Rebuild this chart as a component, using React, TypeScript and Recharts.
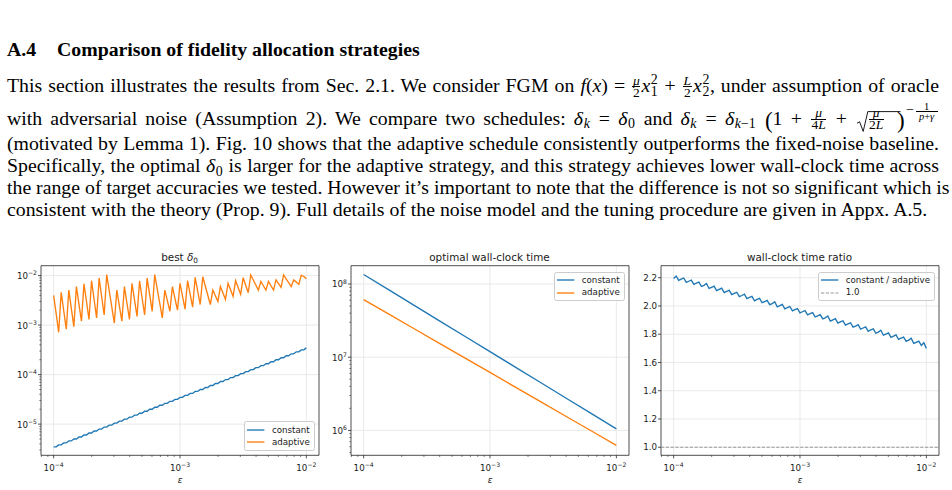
import React from 'react';
import {
  LineChart,
  Line,
  XAxis,
  YAxis,
  CartesianGrid,
  ReferenceLine,
  ReferenceArea,
  Legend,
} from 'recharts';

// ---------------------------------------------------------------------------
// Data
// ---------------------------------------------------------------------------

// target accuracies ε used by the δ0 and ratio panels
const epsilon = [
  1.000e-4, 1.047e-4, 1.096e-4, 1.148e-4, 1.202e-4, 1.259e-4, 1.318e-4, 1.380e-4, 1.445e-4, 1.514e-4,
  1.585e-4, 1.660e-4, 1.738e-4, 1.820e-4, 1.905e-4, 1.995e-4, 2.089e-4, 2.188e-4, 2.291e-4, 2.399e-4,
  2.512e-4, 2.630e-4, 2.754e-4, 2.884e-4, 3.020e-4, 3.162e-4, 3.311e-4, 3.467e-4, 3.631e-4, 3.802e-4,
  3.981e-4, 4.169e-4, 4.365e-4, 4.571e-4, 4.786e-4, 5.012e-4, 5.248e-4, 5.495e-4, 5.754e-4, 6.026e-4,
  6.310e-4, 6.607e-4, 6.918e-4, 7.244e-4, 7.586e-4, 7.943e-4, 8.318e-4, 8.710e-4, 9.120e-4, 9.550e-4,
  1.000e-3, 1.047e-3, 1.096e-3, 1.148e-3, 1.202e-3, 1.259e-3, 1.318e-3, 1.380e-3, 1.445e-3, 1.514e-3,
  1.585e-3, 1.660e-3, 1.738e-3, 1.820e-3, 1.905e-3, 1.995e-3, 2.089e-3, 2.188e-3, 2.291e-3, 2.399e-3,
  2.512e-3, 2.630e-3, 2.754e-3, 2.884e-3, 3.020e-3, 3.162e-3, 3.311e-3, 3.467e-3, 3.631e-3, 3.802e-3,
  3.981e-3, 4.169e-3, 4.365e-3, 4.571e-3, 4.786e-3, 5.012e-3, 5.248e-3, 5.495e-3, 5.754e-3, 6.026e-3,
  6.310e-3, 6.607e-3, 6.918e-3, 7.244e-3, 7.586e-3, 7.943e-3, 8.318e-3, 8.710e-3, 9.120e-3, 9.550e-3,
  1.000e-2,
];

// best initial noise level δ0, constant schedule
const bestDeltaConstant = [
  3.467e-6, 3.467e-6, 3.802e-6, 3.802e-6, 4.169e-6, 4.169e-6, 4.571e-6, 4.571e-6, 5.012e-6, 5.012e-6,
  5.495e-6, 5.495e-6, 6.026e-6, 6.026e-6, 6.607e-6, 6.607e-6, 7.244e-6, 7.244e-6, 7.943e-6, 7.943e-6,
  8.710e-6, 8.710e-6, 9.550e-6, 9.550e-6, 1.047e-5, 1.047e-5, 1.148e-5, 1.148e-5, 1.259e-5, 1.259e-5,
  1.380e-5, 1.380e-5, 1.514e-5, 1.514e-5, 1.660e-5, 1.660e-5, 1.820e-5, 1.820e-5, 1.995e-5, 1.995e-5,
  2.188e-5, 2.188e-5, 2.399e-5, 2.399e-5, 2.630e-5, 2.630e-5, 2.884e-5, 2.884e-5, 3.162e-5, 3.162e-5,
  3.467e-5, 3.467e-5, 3.802e-5, 3.802e-5, 4.169e-5, 4.169e-5, 4.571e-5, 4.571e-5, 5.012e-5, 5.012e-5,
  5.495e-5, 5.495e-5, 6.026e-5, 6.026e-5, 6.607e-5, 6.607e-5, 7.244e-5, 7.244e-5, 7.943e-5, 7.943e-5,
  8.710e-5, 8.710e-5, 9.550e-5, 9.550e-5, 1.047e-4, 1.047e-4, 1.148e-4, 1.148e-4, 1.259e-4, 1.259e-4,
  1.380e-4, 1.380e-4, 1.514e-4, 1.514e-4, 1.660e-4, 1.660e-4, 1.820e-4, 1.820e-4, 1.995e-4, 1.995e-4,
  2.188e-4, 2.188e-4, 2.399e-4, 2.399e-4, 2.630e-4, 2.630e-4, 2.884e-4, 2.884e-4, 3.162e-4, 3.162e-4,
  3.467e-4,
];

// best initial noise level δ0, adaptive schedule
const bestDeltaAdaptive = [
  4.0e-3, 1.70e-3, 7.2e-4, 4.6e-3, 1.95e-3, 8.3e-4, 5.1e-3, 2.18e-3, 9.3e-4, 6.0e-3,
  2.68e-3, 1.2e-3, 6.8e-3, 2.97e-3, 1.3e-3, 7.9e-3, 3.33e-3, 1.4e-3, 8.9e-3, 3.77e-3,
  1.6e-3, 1.05e-2, 4.95e-3, 2.33e-3, 1.1e-3, 5.1e-3, 2.47e-3, 1.2e-3, 6.0e-3, 2.79e-3,
  1.3e-3, 7.0e-3, 3.24e-3, 1.5e-3, 7.8e-3, 3.53e-3, 1.6e-3, 8.9e-3, 4.11e-3, 1.9e-3,
  1.05e-2, 5.36e-3, 2.74e-3, 1.4e-3, 5.1e-3, 3.11e-3, 1.9e-3, 6.0e-3, 3.46e-3, 2.0e-3,
  7.0e-3, 3.83e-3, 2.1e-3, 7.9e-3, 4.26e-3, 2.3e-3, 9.2e-3, 4.89e-3, 2.6e-3, 9.5e-3,
  6.17e-3, 4.01e-3, 2.6e-3, 5.1e-3, 3.91e-3, 3.0e-3, 6.0e-3, 4.45e-3, 3.3e-3, 7.0e-3,
  5.16e-3, 3.8e-3, 7.9e-3, 5.76e-3, 4.2e-3, 9.1e-3, 6.40e-3, 4.5e-3, 1.03e-2, 8.15e-3,
  6.45e-3, 5.1e-3, 7.6e-3, 6.23e-3, 5.1e-3, 7.6e-3, 6.23e-3, 5.1e-3, 8.2e-3, 6.90e-3,
  5.8e-3, 1.03e-2, 8.61e-3, 7.18e-3, 6.0e-3, 8.2e-3, 7.41e-3, 6.7e-3, 1.02e-2, 9.6e-3,
  8.6e-3,
];

// wall-clock time of the constant schedule divided by that of the adaptive one
const timeRatio = [
  2.195, 2.212, 2.181, 2.190, 2.198, 2.167, 2.175, 2.183, 2.153, 2.161,
  2.169, 2.138, 2.146, 2.159, 2.124, 2.132, 2.140, 2.109, 2.118, 2.126,
  2.095, 2.103, 2.111, 2.081, 2.089, 2.097, 2.066, 2.074, 2.083, 2.052,
  2.060, 2.068, 2.037, 2.046, 2.054, 2.023, 2.031, 2.039, 2.009, 2.017,
  2.030, 1.994, 2.002, 2.011, 1.980, 1.988, 1.996, 1.965, 1.974, 1.982,
  1.951, 1.959, 1.967, 1.937, 1.945, 1.953, 1.922, 1.930, 1.939, 1.908,
  1.916, 1.929, 1.893, 1.902, 1.910, 1.879, 1.887, 1.895, 1.865, 1.873,
  1.881, 1.850, 1.858, 1.867, 1.836, 1.844, 1.852, 1.821, 1.830, 1.838,
  1.807, 1.815, 1.828, 1.793, 1.801, 1.809, 1.778, 1.786, 1.795, 1.764,
  1.772, 1.780, 1.749, 1.758, 1.771, 1.735, 1.743, 1.751, 1.721, 1.740,
  1.700,
];

// optimal wall-clock time (coarser ε grid)
const epsilonCoarse = [
  1.000e-4, 1.585e-4, 2.512e-4, 3.981e-4, 6.310e-4, 1.000e-3, 1.585e-3, 2.512e-3, 3.981e-3, 6.310e-3, 1.000e-2,
];
const wallClockConstant = [
  1.349e8, 8.299e7, 5.105e7, 3.141e7, 1.932e7, 1.191e7, 7.328e6, 4.508e6, 2.773e6, 1.706e6, 1.050e6,
];
const wallClockAdaptive = [
  6.124e7, 3.873e7, 2.449e7, 1.549e7, 9.795e6, 6.194e6, 3.908e6, 2.472e6, 1.563e6, 9.886e5, 6.252e5,
];

// axis ticks
const xMajorTicks = [1e-4, 1e-3, 1e-2];
const xMinorTicks = [
  8e-5, 9e-5,
  2e-4, 3e-4, 4e-4, 5e-4, 6e-4, 7e-4, 8e-4, 9e-4,
  2e-3, 3e-3, 4e-3, 5e-3, 6e-3, 7e-3, 8e-3, 9e-3,
];
const deltaMajorTicks = [1e-5, 1e-4, 1e-3, 1e-2];
const deltaMinorTicks = [
  3e-6, 4e-6, 5e-6, 6e-6, 7e-6, 8e-6, 9e-6,
  2e-5, 3e-5, 4e-5, 5e-5, 6e-5, 7e-5, 8e-5, 9e-5,
  2e-4, 3e-4, 4e-4, 5e-4, 6e-4, 7e-4, 8e-4, 9e-4,
  2e-3, 3e-3, 4e-3, 5e-3, 6e-3, 7e-3, 8e-3, 9e-3,
];
const timeMajorTicks = [1e6, 1e7, 1e8];
const timeMinorTicks = [
  5e5, 6e5, 7e5, 8e5, 9e5,
  2e6, 3e6, 4e6, 5e6, 6e6, 7e6, 8e6, 9e6,
  2e7, 3e7, 4e7, 5e7, 6e7, 7e7, 8e7, 9e7,
];
const ratioTicks = [1.0, 1.2, 1.4, 1.6, 1.8, 2.0, 2.2];

// axis limits
const xDomain = [7.943e-5, 1.259e-2];
const deltaDomain = [2.344e-6, 1.585e-2];
const timeDomain = [4.571e5, 1.778e8];
const ratioDomain = [0.943, 2.285];

const scheduleNames = ['constant', 'adaptive'];
const ratioNames = ['constant / adaptive', '1.0'];

// ---------------------------------------------------------------------------
// Styling / geometry
// ---------------------------------------------------------------------------

const BLUE = '#1f77b4';
const ORANGE = '#ff7f0e';
const INK = '#1a1a1a';
const GRID = '#e4e4e4';
const SANS = '"DejaVu Sans", sans-serif';
const SERIF = '"Liberation Serif", "Times New Roman", serif';

const PLOT_W = 278;
const PLOT_H = 189.6;
const PLOT_TOP = 265.7;
const CHART_TOP = 245;
const CHART_H = 245;
const Y_AXIS_W = 40;
const X_AXIS_H = 30;
const RIGHT_PAD = 20;
const CHART_W = Y_AXIS_W + PLOT_W + RIGHT_PAD;
const MARGIN = {
  top: PLOT_TOP - CHART_TOP,
  right: RIGHT_PAD,
  bottom: CHART_H - (PLOT_TOP - CHART_TOP) - PLOT_H - X_AXIS_H,
  left: 0,
};
const PANEL_LEFTS = [40.6, 350.5, 660.5];
const Y_LABEL_GAP = 4;

// ---------------------------------------------------------------------------
// Axis pieces
// ---------------------------------------------------------------------------

const isDecade = (v: number) => {
  const l = Math.log10(v);
  return Math.abs(l - Math.round(l)) < 1e-9;
};
const exponentText = (v: number) => {
  const e = Math.round(Math.log10(v));
  return e < 0 ? '\u2212' + String(-e) : String(e);
};

const LogTickBottom = (props: any) => {
  const { x, y, payload } = props;
  const v = payload.value;
  const major = isDecade(v);
  return (
    <g>
      <line x1={x} x2={x} y1={y} y2={y + (major ? 3 : 1.7)} stroke={INK} strokeWidth={major ? 0.75 : 0.55} />
      {major && (
        <text x={x} y={y + 15.2} textAnchor="middle" fontFamily={SANS} fontSize={8.7} fill={INK}>
          10<tspan dy={-4} fontSize={6.1}>{exponentText(v)}</tspan>
        </text>
      )}
    </g>
  );
};

const LogTickLeft = (props: any) => {
  const { x, y, payload } = props;
  const v = payload.value;
  const major = isDecade(v);
  return (
    <g>
      <line x1={x - (major ? 3 : 1.7)} x2={x} y1={y} y2={y} stroke={INK} strokeWidth={major ? 0.75 : 0.55} />
      {major && (
        <text x={x - Y_LABEL_GAP} y={y + 3.4} textAnchor="end" fontFamily={SANS} fontSize={8.7} fill={INK}>
          10<tspan dy={-3.8} fontSize={6.1}>{exponentText(v)}</tspan>
        </text>
      )}
    </g>
  );
};

const LinearTickLeft = (props: any) => {
  const { x, y, payload } = props;
  return (
    <g>
      <line x1={x - 3} x2={x} y1={y} y2={y} stroke={INK} strokeWidth={0.75} />
      <text x={x - Y_LABEL_GAP} y={y + 3.1} textAnchor="end" fontFamily={SANS} fontSize={8.7} fill={INK}>
        {Number(payload.value).toFixed(1)}
      </text>
    </g>
  );
};

const EpsilonLabel = (props: any) => {
  const vb = props.viewBox || {};
  return (
    <text x={vb.x + vb.width / 2} y={vb.y + 27.2} textAnchor="middle" fontFamily={SANS} fontStyle="italic" fontSize={8.7} fill={INK}>
      ε
    </text>
  );
};

type LegendItem = { label: string; color: string; width: number; dash?: string };

const LegendBox = ({ items, width }: { items: LegendItem[]; width: number }) => (
  <div
    style={{
      width,
      boxSizing: 'border-box',
      border: '1px solid #cccccc',
      borderRadius: 2.5,
      background: 'rgba(255,255,255,0.8)',
      padding: '1.5px 0 1.5px 2.5px',
      fontFamily: SANS,
      fontSize: 8.7,
      color: INK,
      lineHeight: '12.3px',
    }}
  >
    {items.map((item) => (
      <div key={item.label} style={{ display: 'flex', alignItems: 'center', height: 12.3, whiteSpace: 'nowrap' }}>
        <svg width={17.4} height={4} style={{ marginRight: 7, flex: 'none' }}>
          <line x1={0} x2={17.4} y1={2} y2={2} stroke={item.color} strokeWidth={item.width} strokeDasharray={item.dash} />
        </svg>
        <span>{item.label}</span>
      </div>
    ))}
  </div>
);

type PanelProps = {
  left: number;
  title: React.ReactNode;
  data: any[];
  series: { key: string; color: string }[];
  yScale: 'log' | 'linear';
  yDomain: number[];
  yTicks: number[];
  yGrid: number[];
  yTick: (p: any) => React.ReactElement;
  legendItems: LegendItem[];
  legendWidth: number;
  legendTop: number;
  extra?: React.ReactNode;
};

const Panel = ({ left, title, data, series, yScale, yDomain, yTicks, yGrid, yTick, legendItems, legendWidth, legendTop, extra }: PanelProps) => (
  <>
    <div
      style={{
        position: 'absolute',
        left,
        top: 251.2,
        width: PLOT_W,
        textAlign: 'center',
        fontFamily: SANS,
        fontSize: 10.4,
        lineHeight: '12px',
        color: INK,
        whiteSpace: 'nowrap',
      }}
    >
      {title}
    </div>
    <div style={{ position: 'absolute', left: left - Y_AXIS_W, top: CHART_TOP }}>
      <LineChart width={CHART_W} height={CHART_H} data={data} margin={MARGIN}>
        <CartesianGrid stroke={GRID} strokeWidth={0.8} verticalValues={xMajorTicks} horizontalValues={yGrid} />
        <XAxis
          dataKey="eps"
          type="number"
          scale="log"
          domain={xDomain}
          allowDataOverflow
          ticks={[...xMajorTicks, ...xMinorTicks].sort((a, b) => a - b)}
          interval={0}
          tick={LogTickBottom}
          tickLine={false}
          axisLine={false}
          tickSize={0}
          tickMargin={0}
          height={X_AXIS_H}
          label={EpsilonLabel}
        />
        <YAxis
          type="number"
          scale={yScale}
          domain={yDomain}
          allowDataOverflow
          ticks={yTicks}
          interval={0}
          tick={yTick}
          tickLine={false}
          axisLine={false}
          tickSize={0}
          tickMargin={0}
          width={Y_AXIS_W}
        />
        {extra}
        {series.map((s) => (
          <Line
            key={s.key}
            dataKey={s.key}
            type="linear"
            stroke={s.color}
            strokeWidth={1.35}
            dot={false}
            activeDot={false}
            isAnimationActive={false}
          />
        ))}
        <ReferenceArea
          x1={xDomain[0]}
          x2={xDomain[1]}
          y1={yDomain[0]}
          y2={yDomain[1]}
          fill="none"
          fillOpacity={0}
          stroke="#222222"
          strokeWidth={0.8}
          ifOverflow="visible"
        />
        <Legend
          layout="vertical"
          align="center"
          verticalAlign="middle"
          wrapperStyle={{
            left: Y_AXIS_W + PLOT_W - 3.6 - legendWidth,
            top: legendTop,
            width: legendWidth,
            height: 'auto',
            margin: 0,
          }}
          content={() => <LegendBox items={legendItems} width={legendWidth} />}
        />
      </LineChart>
    </div>
  </>
);

// ---------------------------------------------------------------------------
// Inline math helpers for the paragraph
// ---------------------------------------------------------------------------

const I = ({ children }: { children: React.ReactNode }) => <span style={{ fontStyle: 'italic' }}>{children}</span>;

// a small absolutely placed glyph group whose baseline sits `base` px above the line baseline
const piece = (base: number, fs: number, extra: React.CSSProperties = {}): React.CSSProperties => {
  const lh = 0.75 * fs;
  return {
    position: 'absolute',
    bottom: base - (lh / 2 - 0.3375 * fs),
    fontSize: fs,
    lineHeight: `${lh}px`,
    whiteSpace: 'nowrap',
    textAlign: 'left',
    textAlignLast: 'auto',
    ...extra,
  };
};

const Frac = ({ n, d, w, fs = 13.5, up = 7.0, bar = 5.0, down = 4.9, rule = 0.9 }: any) => (
  <span style={{ display: 'inline-block', position: 'relative', width: w, height: 0, margin: '0 1.2px' }}>
    <span style={piece(up, fs, { left: 0, width: w, textAlign: 'center' })}>{n}</span>
    <span style={{ position: 'absolute', left: 0, width: w, bottom: bar, height: 0, borderTop: `${rule}px solid #000` }} />
    <span style={piece(-down, fs, { left: 0, width: w, textAlign: 'center' })}>{d}</span>
  </span>
);

const Scripts = ({ sup, sub, w = 7.5, fs = 13.9 }: any) => (
  <span style={{ display: 'inline-block', position: 'relative', width: w, height: 0, marginLeft: 0.6 }}>
    {sup != null && <span style={piece(7.4, fs, { left: 0 })}>{sup}</span>}
    {sub != null && <span style={piece(-4.7, fs, { left: 0 })}>{sub}</span>}
  </span>
);

const BigParen = ({ children }: { children: React.ReactNode }) => (
  <span style={{ fontSize: 23, lineHeight: 0, position: 'relative', top: 3.2 }}>{children}</span>
);

const Radical = ({ over }: { over: number }) => (
  <span style={{ display: 'inline-block', position: 'relative', width: 11, height: 0, marginLeft: 1.5 }}>
    <svg width={12 + over} height={21} style={{ position: 'absolute', left: 0, bottom: -7.6, overflow: 'visible' }}>
      <polyline
        points={`0,12.2 2.6,10.8 6.2,20.4 10.8,0.6 ${11.5 + over},0.6`}
        fill="none"
        stroke="#000"
        strokeWidth={0.9}
      />
    </svg>
  </span>
);

const Exponent = () => (
  <span style={{ display: 'inline-block', position: 'relative', width: 33, height: 0, marginLeft: 1.5 }}>
    <span style={piece(10.2, 13.9, { left: 0 })}>−</span>
    <span style={piece(14.2, 10.5, { left: 9, width: 23, textAlign: 'center' })}>1</span>
    <span style={{ position: 'absolute', left: 9.5, width: 22, bottom: 12.4, height: 0, borderTop: '0.7px solid #000' }} />
    <span style={piece(4.2, 10.5, { left: 9, width: 23, textAlign: 'center' })}>
      <I>p</I>+<I>γ</I>
    </span>
  </span>
);

const TextRow = ({ baseline, justify = true, style, children }: any) => (
  <div
    style={{
      position: 'absolute',
      left: 7,
      top: baseline - 17.7,
      width: 932,
      fontFamily: SERIF,
      fontSize: 19.8,
      lineHeight: '22px',
      whiteSpace: 'nowrap',
      color: '#000',
      textAlign: justify ? 'justify' : 'left',
      textAlignLast: justify ? 'justify' : 'left',
      ...style,
    }}
  >
    {children}
  </div>
);

// ---------------------------------------------------------------------------
// Page
// ---------------------------------------------------------------------------

export default function App() {
  const deltaRows = epsilon.map((eps, i) => ({
    eps,
    constant: bestDeltaConstant[i],
    adaptive: bestDeltaAdaptive[i],
  }));
  const timeRows = epsilonCoarse.map((eps, i) => ({
    eps,
    constant: wallClockConstant[i],
    adaptive: wallClockAdaptive[i],
  }));
  const ratioRows = epsilon.map((eps, i) => ({ eps, ratio: timeRatio[i] }));

  const scheduleLegend: LegendItem[] = [
    { label: scheduleNames[0], color: BLUE, width: 1.35 },
    { label: scheduleNames[1], color: ORANGE, width: 1.35 },
  ];
  const ratioLegend: LegendItem[] = [
    { label: ratioNames[0], color: BLUE, width: 1.35 },
    { label: ratioNames[1], color: '#8c8c8c', width: 0.9, dash: '3.2 1.6' },
  ];

  const upperLegendTop = MARGIN.top + 6;
  const lowerLegendTop = MARGIN.top + PLOT_H - 4.3 - 29.6;

  return (
    <div style={{ position: 'absolute', left: 0, top: 0, width: 952, height: 490, overflow: 'hidden', background: '#fff' }}>
      <TextRow baseline={56} justify={false} style={{ fontWeight: 'bold' }}>
        A.4<span style={{ display: 'inline-block', width: 20.9 }} />Comparison of fidelity allocation strategies
      </TextRow>
      <TextRow baseline={92}>
        This section illustrates the results from Sec. 2.1. We consider FGM on <I>f</I>(<I>x</I>) ={' '}
        <Frac n={<I>μ</I>} d="2" w={8} />
        <I>x</I>
        <Scripts sup="2" sub="1" /> + <Frac n={<I>L</I>} d="2" w={9} />
        <I>x</I>
        <Scripts sup="2" sub="2" />, under assumption of oracle
      </TextRow>
      <TextRow baseline={124.3}>
        with adversarial noise (Assumption 2). We compare two schedules: <I>δ</I>
        <Scripts sub={<I>k</I>} w={7} /> = <I>δ</I>
        <Scripts sub="0" w={7.5} /> and <I>δ</I>
        <Scripts sub={<I>k</I>} w={7} /> = <I>δ</I>
        <Scripts sub={<><I>k</I>−1</>} w={22} /> <BigParen>(</BigParen>1 +{' '}
        <Frac n={<I>μ</I>} d={<>4<I>L</I></>} w={15} /> + <Radical over={32} />
        <Frac n={<I>μ</I>} d={<>2<I>L</I></>} w={15} />
        <span style={{ display: 'inline-block', width: 12 }} />
        <BigParen>)</BigParen>
        <Exponent />
      </TextRow>
      <TextRow baseline={150}>
        (motivated by Lemma 1). Fig. 10 shows that the adaptive schedule consistently outperforms the fixed-noise baseline.
      </TextRow>
      <TextRow baseline={171.9}>
        Specifically, the optimal <I>δ</I>
        <Scripts sub="0" w={7.5} /> is larger for the adaptive strategy, and this strategy achieves lower wall-clock time across
      </TextRow>
      <TextRow baseline={193.8}>
        the range of target accuracies we tested. However it’s important to note that the difference is not so significant which is
      </TextRow>
      <TextRow baseline={215.7} justify={false}>
        consistent with the theory (Prop. 9). Full details of the noise model and the tuning procedure are given in Appx. A.5.
      </TextRow>

      <Panel
        left={PANEL_LEFTS[0]}
        title={
          <>
            best <span style={{ fontStyle: 'italic' }}>δ</span>
            <span style={{ fontSize: 7.3, position: 'relative', top: 2, lineHeight: 0 }}>0</span>
          </>
        }
        data={deltaRows}
        series={[
          { key: 'constant', color: BLUE },
          { key: 'adaptive', color: ORANGE },
        ]}
        yScale="log"
        yDomain={deltaDomain}
        yTicks={[...deltaMajorTicks, ...deltaMinorTicks].sort((a, b) => a - b)}
        yGrid={deltaMajorTicks}
        yTick={LogTickLeft}
        legendItems={scheduleLegend}
        legendWidth={71}
        legendTop={lowerLegendTop}
      />
      <Panel
        left={PANEL_LEFTS[1]}
        title="optimal wall-clock time"
        data={timeRows}
        series={[
          { key: 'constant', color: BLUE },
          { key: 'adaptive', color: ORANGE },
        ]}
        yScale="log"
        yDomain={timeDomain}
        yTicks={[...timeMajorTicks, ...timeMinorTicks].sort((a, b) => a - b)}
        yGrid={timeMajorTicks}
        yTick={LogTickLeft}
        legendItems={scheduleLegend}
        legendWidth={71}
        legendTop={upperLegendTop}
      />
      <Panel
        left={PANEL_LEFTS[2]}
        title="wall-clock time ratio"
        data={ratioRows}
        series={[{ key: 'ratio', color: BLUE }]}
        yScale="linear"
        yDomain={ratioDomain}
        yTicks={ratioTicks}
        yGrid={ratioTicks}
        yTick={LinearTickLeft}
        legendItems={ratioLegend}
        legendWidth={117}
        legendTop={upperLegendTop}
        extra={
          <ReferenceLine y={1} stroke="#8c8c8c" strokeWidth={0.9} strokeDasharray="3.2 1.6" ifOverflow="visible" />
        }
      />
    </div>
  );
}
